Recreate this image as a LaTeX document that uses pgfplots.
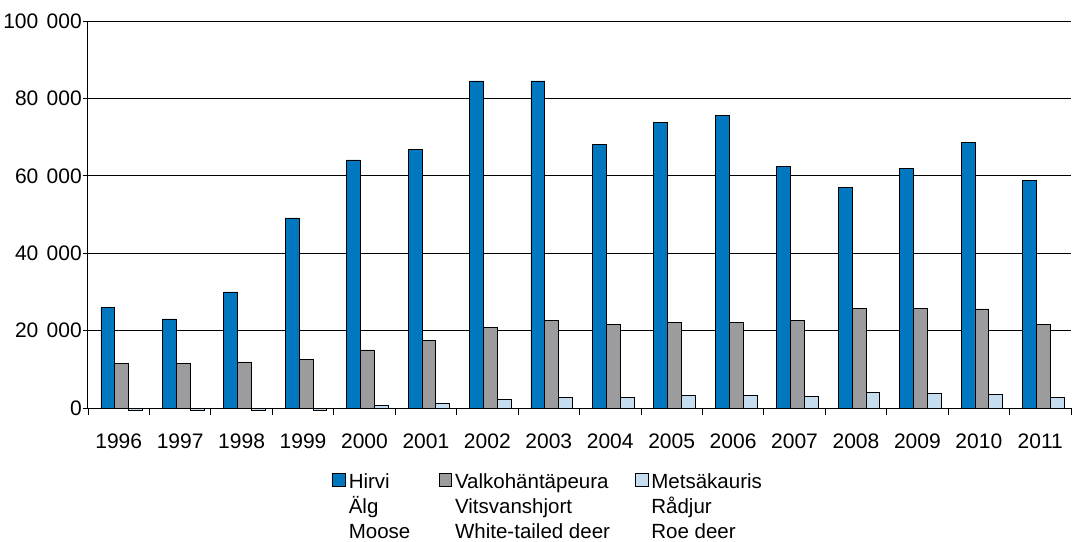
\documentclass[border=0pt]{standalone}
\usepackage{fontspec}
\setmainfont{Liberation Sans}
\usepackage{pgfplots}
\pgfplotsset{compat=1.18}
\definecolor{hirvi}{HTML}{0077BE}
\definecolor{valko}{HTML}{9C9C9E}
\definecolor{mets}{HTML}{C6DCEF}
\begin{document}
\begin{tikzpicture}
\begin{axis}[
  name=ax,
  scale only axis, width=983pt, height=387pt,
  ybar=0pt, bar width=0.226,
  xmin=-0.5, xmax=15.5, ymin=0, ymax=100000,
  clip=false,
  axis lines*=left,
  axis line style={black, line width=1pt},
  xtick={0,...,15},
  xticklabels={1996,1997,1998,1999,2000,2001,2002,2003,2004,2005,2006,2007,2008,2009,2010,2011},
  major x tick style={draw=none},
  minor xtick={-0.5,0.5,...,15.5},
  minor tick length=7pt,
  major tick length=5pt,
  tick align=outside,
  tick style={black, line width=0.8pt},
  ytick={0,20000,40000,60000,80000,100000},
  yticklabels={0,20\hspace{0.4em}000,40\hspace{0.4em}000,60\hspace{0.4em}000,80\hspace{0.4em}000,100\hspace{0.4em}000},
  scaled y ticks=false,
  ymajorgrids, grid style={black, line width=0.8pt},
  ticklabel style={font=\fontsize{21}{25}\selectfont, inner sep=0pt},
  yticklabel style={xshift=-1pt},
  xticklabel style={yshift=-21pt},
  legend columns=3,
  legend style={draw=none, fill=none, at={(0.2485,-0.161)}, anchor=north west,
    inner sep=0pt, column sep=3pt, nodes={inner sep=0pt},
    font=\fontsize{20.5}{25}\selectfont},
  legend cell align=left,
  legend image code/.code={\draw[#1, draw=black, line width=0.8pt] (0pt,-6pt) rectangle (12.5pt,6.5pt);},
]
\addplot[fill=hirvi, draw=black, line width=0.8pt, bar shift=-0.177] coordinates {
(0,26000) (1,23000) (2,30000) (3,49100) (4,64100) (5,66900) (6,84500) (7,84500)
(8,68200) (9,73900) (10,75500) (11,62500) (12,57100) (13,62000) (14,68700) (15,58700)};
\addplot[fill=valko, draw=black, line width=0.8pt, bar shift=0.049] coordinates {
(0,11400) (1,11500) (2,11900) (3,12500) (4,15000) (5,17500) (6,20900) (7,22700)
(8,21700) (9,22000) (10,22200) (11,22700) (12,25800) (13,25800) (14,25600) (15,21700)};
\addplot[fill=mets, draw=black, line width=0.8pt, bar shift=0.275] coordinates {
(0,-700) (1,-700) (2,-700) (3,-700) (4,600) (5,1200) (6,2100) (7,2800)
(8,2700) (9,3200) (10,3300) (11,3100) (12,4100) (13,3800) (14,3500) (15,2800)};
\addlegendentry{\begin{tabular}[t]{@{}p{87pt}@{}}Hirvi\\Älg\\Moose\end{tabular}}
\addlegendentry{\begin{tabular}[t]{@{}p{177pt}@{}}Valkohäntäpeura\\Vitsvanshjort\\White-tailed deer\end{tabular}}
\addlegendentry{\begin{tabular}[t]{@{}p{130pt}@{}}Metsäkauris\\Rådjur\\Roe deer\end{tabular}}
\end{axis}
\pgfresetboundingbox
\path ([xshift=-88pt,yshift=-133pt]ax.south west) rectangle ([xshift=4pt,yshift=21pt]ax.north east);
\end{tikzpicture}
\end{document}
